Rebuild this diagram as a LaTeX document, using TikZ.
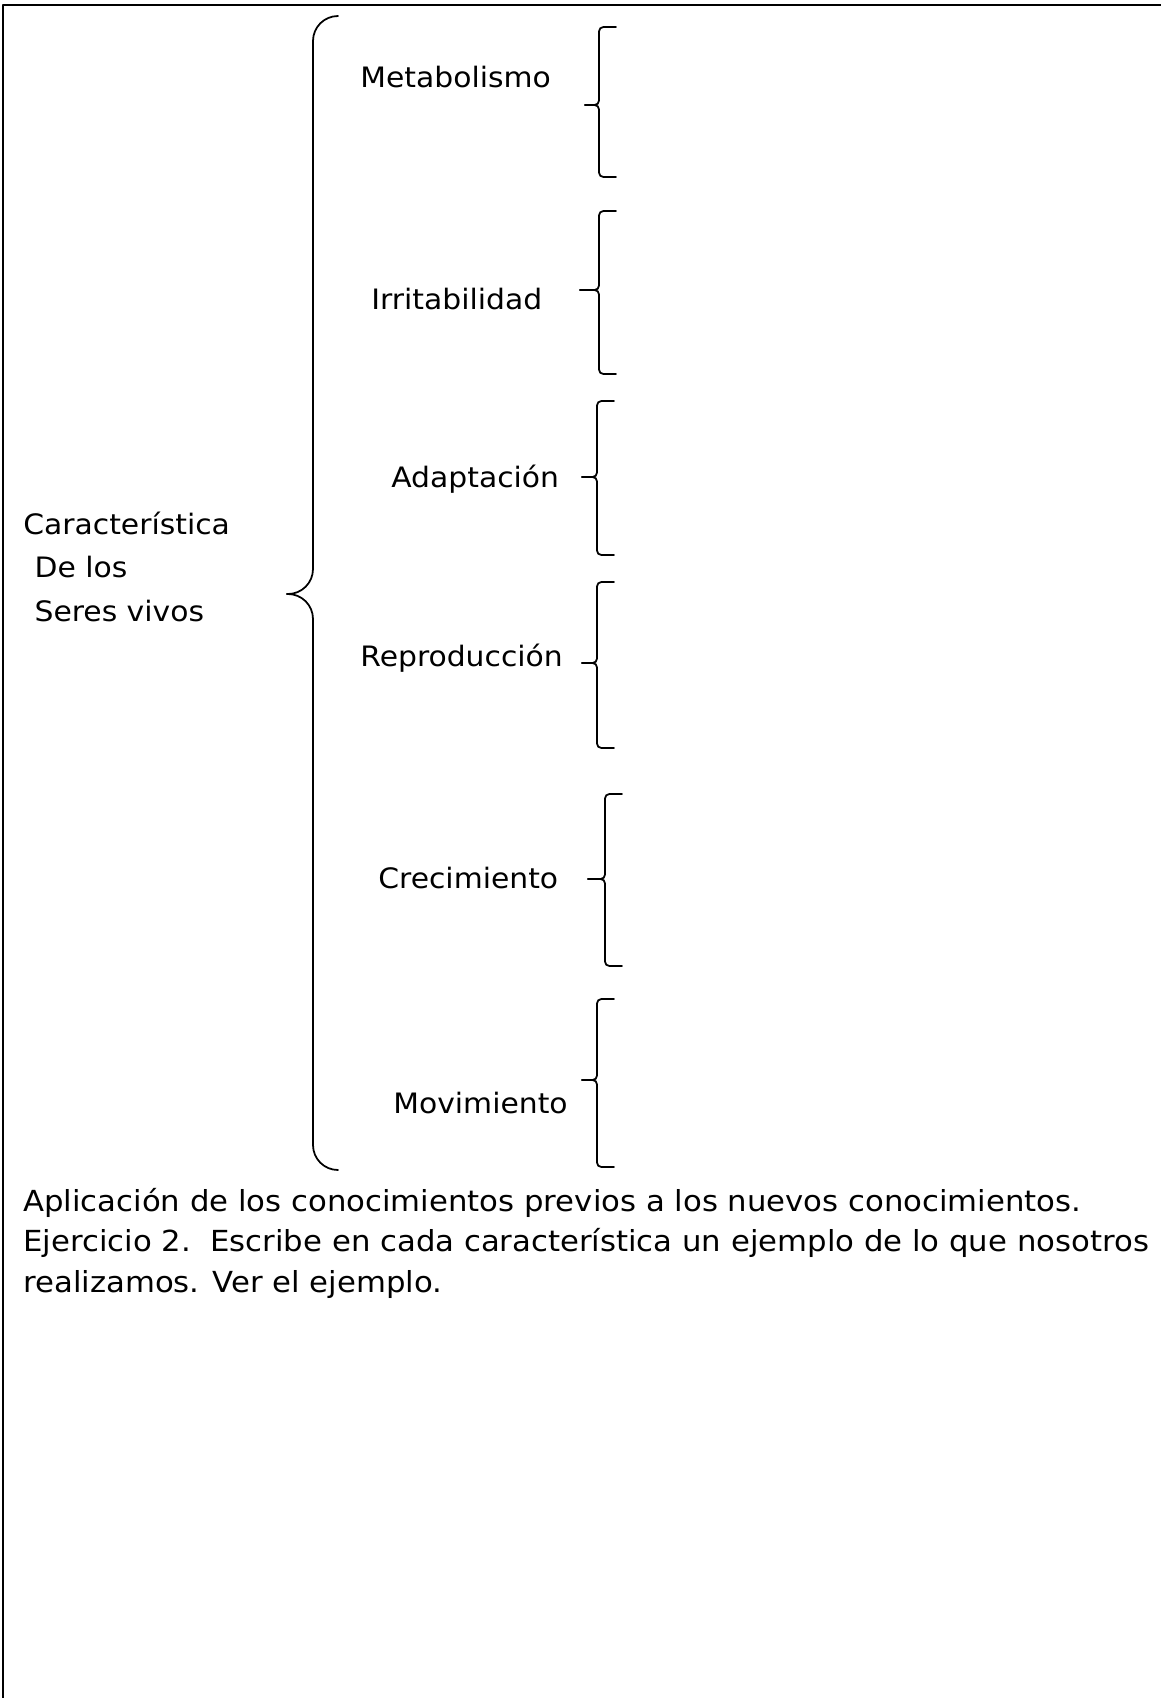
\documentclass[tikz,border=0pt]{standalone}
\usepackage{fontspec}
\setmainfont[FakeStretch=1.06]{DejaVu Sans}
\usetikzlibrary{calc}

\tikzset{
  lbl/.style={inner sep=0pt,font=\fontsize{16}{24.5}\selectfont},
  smallbrace/.style={line width=1pt,rounded corners=2.5pt},
  bigbrace/.style={line width=1pt,rounded corners=0.5cm},
  frame/.style={line width=1.4pt}
}

\begin{document}
\begin{tikzpicture}[x=0.02cm,y=-0.02cm,line join=round,line cap=round]
			\useasboundingbox (0,0) rectangle (1161,1698);
			\draw[frame,line cap=butt](3,1698)--(3,5)--(1161,5);
			% left label and big brace (base = last line)
			\node[lbl,anchor=base west,align=left] (root) at (23,621) {Característica\\\hspace*{.4em}De los\\\hspace*{.4em}Seres vivos};
			\coordinate (T) at (313,16);
			\coordinate (M) at (287,594);
			\coordinate (B) at (313,1170);
			\draw[bigbrace]($(T)+(25,0)$)--(T)--(T|-M)--(M);
			\draw[bigbrace]($(B)+(25,0)$)--(B)--(B|-M)--(M);
			% the six characteristics with their braces
			\foreach \nm/\txt/\lx/\ly/\vx/\tx/\ty/\tb/\bb in {
				met/Metabolismo/360/87/599/585/105/27/177,
				irr/Irritabilidad/371/309/599/580/290/211/374,
				ada/Adaptación/391/487/597/582/477/401/555,
				rep/Reproducción/360/666/597/582/663/582/748,
				cre/Crecimiento/378/888/605/588/879/794/966,
				mov/Movimiento/393/1113/597/582/1080/999/1167}{
				\node[lbl,anchor=base west] (\nm) at (\lx,\ly) {\txt};
				\coordinate (\nm-top) at (\vx,\tb);
				\coordinate (\nm-tip) at (\tx,\ty);
				\coordinate (\nm-bot) at (\vx,\bb);
				\draw[smallbrace]($(\nm-top)+(17,0)$)--(\nm-top)--(\nm-top|-\nm-tip)--(\nm-tip);
				\draw[smallbrace]($(\nm-bot)+(17,0)$)--(\nm-bot)--(\nm-bot|-\nm-tip)--(\nm-tip);
			}
			% exercise text (base = last line)
			\node[lbl,anchor=base west,align=left,font=\fontsize{16.5}{22.8}\selectfont] (task) at (23,1292) {Aplicación de los conocimientos previos a los nuevos conocimientos.\\Ejercicio 2.\ \ Escribe en cada característica un ejemplo de lo que nosotros\\realizamos. Ver el ejemplo.};
		\end{tikzpicture}
\end{document}
